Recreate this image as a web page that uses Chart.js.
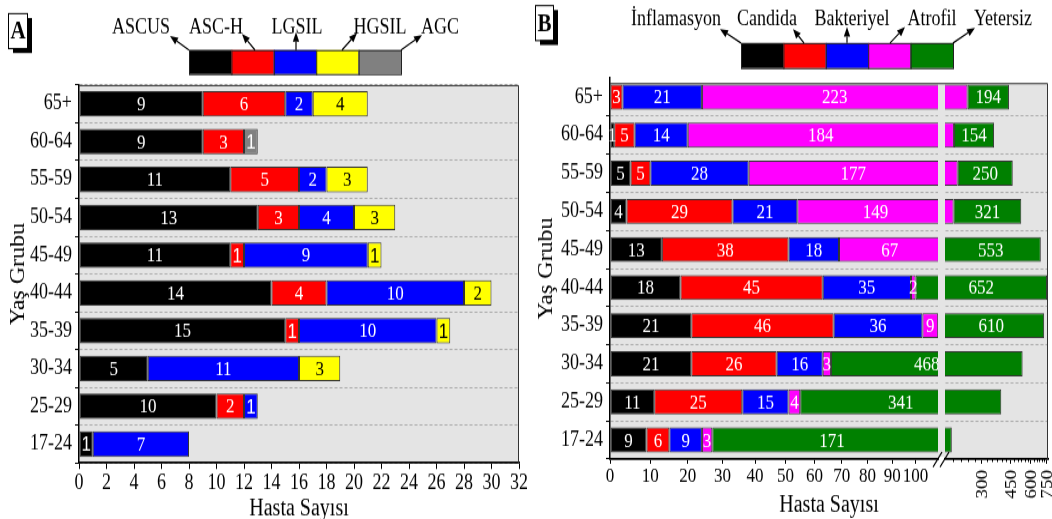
<!DOCTYPE html>
<html>
<head>
<meta charset="utf-8">
<script src="https://cdn.jsdelivr.net/npm/chart.js@4.4.0/dist/chart.umd.min.js"></script>
<style>
    body { margin: 0; background: #fff; width: 1052px; height: 519px; overflow: hidden; position: relative; }
    canvas { position: absolute; top: 0; }
    #chartA { left: 0; }
    #chartB { left: 530px; }
</style>
</head>
<body>
<!-- the reference text is tall and narrow, so the canvases are drawn 433 high and shown 519 high -->
<canvas id="chartA" width="530" height="433" style="width:530px;height:519px"></canvas>
<canvas id="chartB" width="522" height="433" style="width:522px;height:519px"></canvas>
<script>
/* datos */
const ageGroups = ['65+', '60-64', '55-59', '50-54', '45-49', '40-44', '35-39', '30-34', '25-29', '17-24'];

// panel A
const namesA = ['ASCUS', 'ASC-H', 'LGSIL', 'HGSIL', 'AGC'];
const ascus = [9, 9, 11, 13, 11, 14, 15, 5, 10, 1];
const ascH = [6, 3, 5, 3, 1, 4, 1, 0, 2, 0];
const lgsil = [2, 0, 2, 4, 9, 10, 10, 11, 1, 7];
const hgsil = [4, 0, 3, 3, 1, 2, 1, 3, 0, 0];
const agc = [0, 1, 0, 0, 0, 0, 0, 0, 0, 0];
const ticksA = [0, 2, 4, 6, 8, 10, 12, 14, 16, 18, 20, 22, 24, 26, 28, 30, 32];

// panel B
const namesB = ['İnflamasyon', 'Candida', 'Bakteriyel', 'Atrofil', 'Yetersiz'];
const inflamasyon = [0, 1, 5, 4, 13, 18, 21, 21, 11, 9];
const candida = [3, 5, 5, 29, 38, 45, 46, 26, 25, 6];
const bakteriyel = [21, 14, 28, 21, 18, 35, 36, 16, 15, 9];
const atrofil = [223, 184, 177, 149, 67, 2, 9, 3, 4, 3];
const yetersiz = [194, 154, 250, 321, 553, 652, 610, 468, 341, 171];
const ticksBLeft = [0, 10, 20, 30, 40, 50, 60, 70, 80, 90, 100];
const ticksBRight = [300, 450, 600, 750];
const minorTicksBRight = [200, 225, 250, 275, 325, 350, 375, 400, 425, 475, 500, 525, 550, 575, 625, 650, 675, 700, 725];

const colorsA = ['#000000', '#ff0000', '#0000ff', '#ffff00', '#808080'];
const colorsB = ['#000000', '#ff0000', '#0000ff', '#ff00ff', '#008000'];
const PLOT_BG = '#e4e4e4';
const SY = 519 / 433;            // estiramiento vertical del lienzo
const py = y => y / SY;          // coordenada de pagina -> lienzo

Chart.defaults.font.family = '"Liberation Serif", "Times New Roman", serif';
Chart.defaults.font.size = 17;
Chart.defaults.color = '#000';

/* eje partido: tramo izquierdo comprimido, hueco, tramo derecho logaritmico */
class BrokenScale extends Chart.LinearScale {
    static id = 'broken';
    dec(v) {
        const o = this.options;
        if (v <= o.breakLow) {
            return o.leftFrac * Math.log(1 + v / o.shift) / Math.log(1 + o.breakLow / o.shift);
        }
        if (v < o.breakHigh) {
            return o.leftFrac + (o.rightFrac - o.leftFrac) * (v - o.breakLow) / (o.breakHigh - o.breakLow);
        }
        return o.rightFrac + (1 - o.rightFrac) * Math.log(v / o.breakHigh) / Math.log(this.max / o.breakHigh);
    }
    buildTicks() {
        return this.options.tickValues.map(v => ({ value: v }));
    }
    getPixelForValue(v) {
        return this.getPixelForDecimal(this.dec(v));
    }
    getValueForPixel(p) {
        const o = this.options;
        let d = (p - this._startPixel) / this._length;
        if (this._reversePixels) d = 1 - d;
        if (d <= o.leftFrac) return o.shift * (Math.exp(d / o.leftFrac * Math.log(1 + o.breakLow / o.shift)) - 1);
        if (d < o.rightFrac) return o.breakLow + (d - o.leftFrac) / (o.rightFrac - o.leftFrac) * (o.breakHigh - o.breakLow);
        return o.breakHigh * Math.exp((d - o.rightFrac) / (1 - o.rightFrac) * Math.log(this.max / o.breakHigh));
    }
}
Chart.register(BrokenScale);

function drawArrow(ctx, x1, y1, x2, y2) {
    const ang = Math.atan2(y2 - y1, x2 - x1);
    const head = 8, wing = 3.2;
    const bx = x2 - head * Math.cos(ang), by = y2 - head * Math.sin(ang);
    ctx.beginPath();
    ctx.moveTo(x1, y1);
    ctx.lineTo(bx, by);
    ctx.stroke();
    ctx.beginPath();
    ctx.moveTo(x2, y2);
    ctx.lineTo(bx + wing * Math.sin(ang), by - wing * Math.cos(ang));
    ctx.lineTo(bx - wing * Math.sin(ang), by + wing * Math.cos(ang));
    ctx.closePath();
    ctx.fill();
}

// fondo, marco, letra del panel y leyenda con flechas
function makeDecor(cfg) {
    return {
        id: 'decor',
        beforeDraw(chart) {
            const { ctx, chartArea: a } = chart;
            ctx.save();
            ctx.fillStyle = PLOT_BG;
            ctx.fillRect(a.left, a.top + cfg.frameTop, a.right - a.left, a.bottom - a.top - cfg.frameTop);
            ctx.restore();
        },
        afterDraw(chart) {
            const { ctx, chartArea: a } = chart;
            ctx.save();
            ctx.strokeStyle = '#333';
            ctx.lineWidth = 1;
            ctx.beginPath();
            ctx.moveTo(a.left, a.top + cfg.frameTop + 0.5);
            ctx.lineTo(a.right - 0.5, a.top + cfg.frameTop + 0.5);
            ctx.lineTo(a.right - 0.5, a.bottom);
            ctx.stroke();

            // letra del panel
            const p = cfg.panel;
            ctx.fillStyle = '#000';
            ctx.fillRect(p.x + 5, p.y + py(5), p.w, p.h);
            ctx.fillStyle = '#fff';
            ctx.fillRect(p.x, p.y, p.w, p.h);
            ctx.strokeStyle = '#000';
            ctx.strokeRect(p.x + 0.5, p.y + 0.5, p.w, p.h);
            ctx.fillStyle = '#000';
            ctx.font = 'bold 21px "Liberation Serif"';
            ctx.textAlign = 'center';
            ctx.textBaseline = 'middle';
            ctx.fillText(p.text, p.x + p.w / 2 + 0.5, p.y + p.h / 2 + 1.5);

            // leyenda
            const L = cfg.legend;
            chart.data.datasets.forEach((ds, i) => {
                const bx = L.x + i * L.w;
                ctx.fillStyle = ds.backgroundColor;
                ctx.fillRect(bx, L.y, L.w, L.h);
                ctx.strokeStyle = '#222';
                ctx.strokeRect(bx + 0.5, L.y + 0.5, L.w, L.h);
                ctx.fillStyle = '#000';
                ctx.font = '18px "Liberation Serif"';
                ctx.textBaseline = 'alphabetic';
                ctx.fillText(ds.label, L.labelX[i], L.labelY);
                ctx.strokeStyle = '#000';
                ctx.lineWidth = 1.2;
                const ar = L.arrows[i];
                drawArrow(ctx, ar[0], py(ar[1]), ar[2], py(ar[3]));
                ctx.lineWidth = 1;
            });
            ctx.restore();
        }
    };
}

// numeros dentro de las barras (y hueco del eje partido)
function makeBarLabels(cfg) {
    return {
        id: 'barLabels',
        afterDatasetsDraw(chart) {
            const { ctx, chartArea: a } = chart;
            const xs = chart.scales.x;
            ctx.save();
            ctx.textAlign = 'center';
            ctx.textBaseline = 'middle';
            chart.data.datasets.forEach((ds, di) => {
                const meta = chart.getDatasetMeta(di);
                meta.data.forEach((bar, i) => {
                    const v = ds.data[i];
                    if (!v) return;
                    const { x, y, base } = bar.getProps(['x', 'y', 'base'], true);
                    ctx.fillStyle = cfg.textColors[di];
                    ctx.font = (cfg.sansOne && v === 1) ? '17px "Liberation Sans"' : '17px "Liberation Serif"';
                    ctx.fillText(String(v), (x + base) / 2, y + 1);
                });
            });
            if (cfg.broken) {
                const g0 = xs.getPixelForValue(xs.options.breakLow);
                const g1 = xs.getPixelForValue(xs.options.breakHigh);
                ctx.fillStyle = PLOT_BG;
                ctx.fillRect(g0, a.top + cfg.frameTop, g1 - g0, a.bottom - a.top - cfg.frameTop - 1);
            }
            ctx.restore();
        },
        afterDraw(chart) {
            if (!cfg.broken) return;
            const { ctx, chartArea: a } = chart;
            const xs = chart.scales.x;
            const g0 = xs.getPixelForValue(xs.options.breakLow);
            const g1 = xs.getPixelForValue(xs.options.breakHigh);
            ctx.save();
            // corte del eje
            ctx.fillStyle = '#fff';
            ctx.fillRect(g0 + 1, a.bottom - 2, g1 - g0 - 2, 5);
            ctx.strokeStyle = '#000';
            ctx.lineWidth = 1.1;
            ctx.beginPath();
            ctx.moveTo(g0 - 5, a.bottom + py(8));
            ctx.lineTo(g0 + 4, a.bottom - py(7));
            ctx.moveTo(g1 - 5, a.bottom + py(8));
            ctx.lineTo(g1 + 4, a.bottom - py(7));
            ctx.stroke();
            // marcas menores
            ctx.lineWidth = 1;
            minorTicksBRight.forEach(v => {
                const px = Math.round(xs.getPixelForValue(v)) + 0.5;
                ctx.beginPath();
                ctx.moveTo(px, a.bottom);
                ctx.lineTo(px, a.bottom + 2.5);
                ctx.stroke();
            });
            // etiquetas giradas del tramo derecho
            ctx.fillStyle = '#000';
            ctx.font = '16px "Liberation Serif"';
            ctx.textAlign = 'right';
            ctx.textBaseline = 'middle';
            ticksBRight.forEach(v => {
                const px = xs.getPixelForValue(v);
                ctx.save();
                ctx.translate(px, a.bottom + 9);
                ctx.rotate(-Math.PI / 2);
                ctx.fillText(String(v), 0, 1);
                ctx.restore();
            });
            ctx.restore();
        }
    };
}

function makeDatasets(series, names, colors, thick) {
    return series.map((d, i) => ({
        label: names[i],
        data: d,
        backgroundColor: colors[i],
        borderColor: '#333',
        borderWidth: c => (c.raw ? 1 : 0),
        borderSkipped: false,
        barPercentage: thick,
        categoryPercentage: 1
    }));
}

function yAxis(width, titlePad, gridStart) {
    return {
        stacked: true,
        afterFit: s => { s.width = width; },
        grid: {
            color: c => (c.index < gridStart ? 'rgba(0,0,0,0)' : '#acacac'),
            tickColor: c => (c.index < gridStart ? 'rgba(0,0,0,0)' : '#000'),
            lineWidth: 1,
            tickLength: 4,
            offset: true
        },
        border: { display: true, color: '#000', width: 1.5, dash: [3, 2] },
        ticks: { font: { size: 18 }, padding: 3 },
        title: { display: true, text: 'Yaş Grubu', font: { size: 20 }, padding: { top: titlePad, bottom: 0 } }
    };
}

/* panel A */
new Chart(document.getElementById('chartA'), {
    type: 'bar',
    data: {
        labels: ageGroups,
        datasets: makeDatasets([ascus, ascH, lgsil, hgsil, agc], namesA, colorsA, 0.675)
    },
    options: {
        indexAxis: 'y',
        responsive: false,
        animation: false,
        events: [],
        layout: { padding: { left: 0, right: 11, top: py(85), bottom: 0 } },
        plugins: { legend: { display: false }, tooltip: { enabled: false } },
        scales: {
            x: {
                stacked: true,
                min: 0,
                max: 32,
                afterBuildTicks: s => { s.ticks = ticksA.map(v => ({ value: v })); },
                afterFit: s => { s.height = 433 - py(463); },
                grid: { drawOnChartArea: false, tickLength: 5, tickColor: '#000' },
                border: { display: true, color: '#000', width: 1.8 },
                ticks: { font: { size: 18 }, padding: 1, maxRotation: 0, autoSkip: false },
                title: { display: true, text: 'Hasta Sayısı', font: { size: 20 }, padding: { top: 0, bottom: -4 } }
            },
            y: yAxis(79, 7, 0)
        }
    },
    plugins: [
        makeDecor({
            frameTop: 0,
            panel: { x: 8, y: py(13), w: 19, h: py(35), text: 'A' },
            legend: {
                x: 189, y: py(50), w: 42.4, h: py(24),
                labelX: [141, 216, 297, 380, 440], labelY: py(34),
                arrows: [[189, 50, 170, 36], [255, 50, 242, 34], [296, 50, 296, 32], [342, 50, 357, 33], [401, 50, 422, 35]]
            }
        }),
        makeBarLabels({ textColors: ['#fff', '#fff', '#fff', '#000', '#fff'], sansOne: true })
    ]
});

/* panel B */
new Chart(document.getElementById('chartB'), {
    type: 'bar',
    data: {
        labels: ageGroups,
        datasets: makeDatasets([inflamasyon, candida, bakteriyel, atrofil, yetersiz], namesB, colorsB, 0.656)
    },
    options: {
        indexAxis: 'y',
        responsive: false,
        animation: false,
        events: [],
        layout: { padding: { left: 0, right: 4, top: py(78), bottom: 0 } },
        plugins: { legend: { display: false }, tooltip: { enabled: false } },
        scales: {
            x: {
                type: 'broken',
                stacked: true,
                min: 0,
                max: 762,
                breakLow: 110,
                breakHigh: 180,
                shift: 120,
                leftFrac: 328 / 438,
                rightFrac: 335 / 438,
                tickValues: ticksBLeft.concat(ticksBRight),
                afterFit: s => { s.height = 433 - py(459); },
                grid: { drawOnChartArea: false, tickLength: 4, tickColor: '#000' },
                border: { display: true, color: '#000', width: 1.8 },
                ticks: {
                    font: { size: 17 },
                    padding: 0,
                    maxRotation: 0,
                    autoSkip: false,
                    callback: v => (v <= 110 ? String(v) : '')
                },
                title: { display: true, text: 'Hasta Sayısı', font: { size: 20 }, padding: { top: 0, bottom: -1 } }
            },
            y: yAxis(80, 5, 1)
        }
    },
    plugins: [
        makeDecor({
            frameTop: py(5),
            panel: { x: 5, y: py(5), w: 18, h: py(35), text: 'B' },
            legend: {
                x: 211, y: py(43), w: 42.4, h: py(25),
                labelX: [146, 237, 322, 402, 473], labelY: py(25),
                arrows: [[211, 43, 190, 29], [274, 43, 263, 29], [317, 43, 317, 27], [360, 43, 375, 27], [423, 43, 445, 28]]
            }
        }),
        makeBarLabels({ textColors: ['#fff', '#fff', '#fff', '#fff', '#fff'], broken: true, frameTop: py(5) })
    ]
});
</script>
</body>
</html>
